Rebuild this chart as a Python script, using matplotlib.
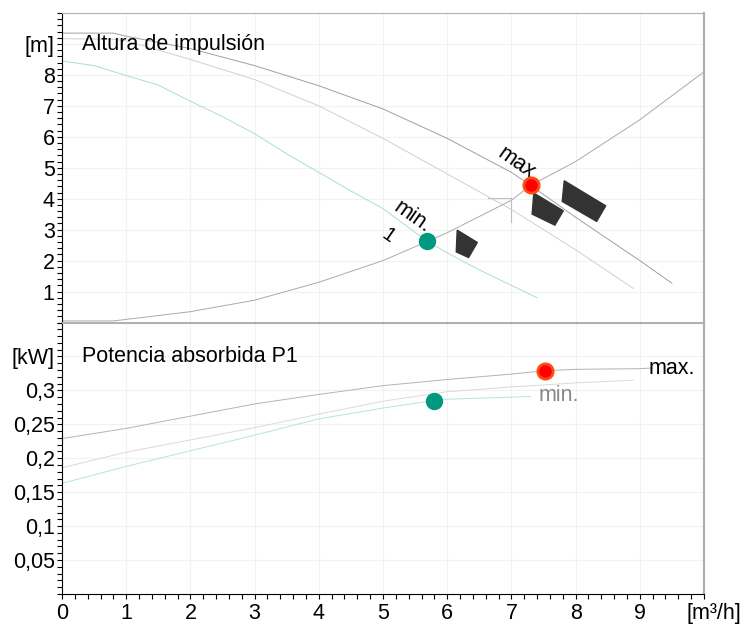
import numpy as np
import matplotlib
matplotlib.use("Agg")
import matplotlib.pyplot as plt
from matplotlib.ticker import MultipleLocator
from matplotlib.patches import Polygon

plt.rcParams['font.family'] = ['Liberation Sans', 'DejaVu Sans']

# --- Altura de impulsion (head) ---
q_max = [0, 0.8, 1, 2, 3, 4, 5, 6, 7, 7.3, 8, 9, 9.5]
h_max = [9.35, 9.35, 9.25, 8.85, 8.3, 7.65, 6.9, 5.95, 4.85, 4.43, 3.4, 2.0, 1.27]
q_mid = [0, 0.8, 1, 2, 3, 4, 5, 6, 7, 8, 8.9]
h_mid = [9.17, 9.15, 9.1, 8.5, 7.85, 7.0, 5.95, 4.8, 3.65, 2.35, 1.1]
q_min = [0, 0.5, 1, 1.5, 2, 2.5, 3, 3.5, 4, 4.5, 5, 5.69, 6, 6.5, 7, 7.4]
h_min = [8.45, 8.3, 7.98, 7.67, 7.15, 6.65, 6.1, 5.45, 4.85, 4.25, 3.68, 2.62, 2.25, 1.7, 1.2, 0.8]
q_sys = [0, 0.8, 1, 2, 3, 4, 5, 5.69, 6, 7, 7.3, 8, 9, 10]
h_sys = [0.05, 0.05, 0.1, 0.35, 0.72, 1.3, 2.0, 2.62, 2.9, 3.95, 4.43, 5.2, 6.55, 8.1]
op_min_h = (5.69, 2.62)
op_max_h = (7.3, 4.43)

# --- Potencia absorbida P1 ---
qp_max = [0, 1, 2, 3, 4, 5, 6, 7, 7.53, 8, 9, 9.2]
p_max = [0.229, 0.244, 0.262, 0.28, 0.294, 0.307, 0.316, 0.324, 0.329, 0.331, 0.332, 0.333]
qp_mid = [0, 1, 2, 3, 4, 5, 6, 7, 8, 8.9]
p_mid = [0.186, 0.209, 0.227, 0.245, 0.265, 0.284, 0.298, 0.305, 0.311, 0.315]
qp_min = [0, 1, 2, 3, 4, 5, 5.79, 6, 7, 7.3]
p_min = [0.163, 0.188, 0.211, 0.234, 0.258, 0.274, 0.285, 0.287, 0.29, 0.291]
op_min_p = (5.79, 0.285)
op_max_p = (7.53, 0.329)

# dark marker shapes in the head panel
shape1 = [(6.156, 2.984), (6.469, 2.586), (6.333, 2.100), (6.141, 2.282)]
shape2 = [(7.349, 4.181), (7.808, 3.608), (7.677, 3.146), (7.323, 3.502)]
shape3 = [(7.823, 4.579), (8.469, 3.770), (8.328, 3.265), (7.792, 3.913)]

x_labels = ['0', '1', '2', '3', '4', '5', '6', '7', '8', '9', '']
h_labels = ['1', '2', '3', '4', '5', '6', '7', '8', '[m]']
p_labels = ['0,05', '0,1', '0,15', '0,2', '0,25', '0,3', '[kW]']

fig = plt.figure(figsize=(7.47, 6.26), dpi=100)
W, H = 747, 626
left, right = 62 / W, 704 / W
ax1 = fig.add_axes([left, 1 - 322.5 / H, right - left, (322.5 - 13) / H])
ax2 = fig.add_axes([left, 1 - 594 / H, right - left, (594 - 322.5) / H])

green = '#00997f'
red = '#ff0000'
fs = 15.5

for ax in (ax1, ax2):
    ax.set_xlim(0, 10)
    ax.grid(True, color='#f2f2f2', linewidth=0.8)
    ax.set_axisbelow(True)
    ax.spines['left'].set_color('black')
    ax.spines['top'].set_color('#b0b0b0')
    ax.spines['right'].set_color('#b0b0b0')
    ax.spines['right'].set_linewidth(1.6)
    ax.xaxis.set_major_locator(MultipleLocator(1))
    ax.xaxis.set_minor_locator(MultipleLocator(0.2))
    ax.tick_params(axis='y', which='both', direction='out', length=3.8, width=0.8,
                   labelsize=fs, pad=1.5)
    ax.tick_params(axis='x', which='both', direction='out', length=3.8, width=0.8,
                   labelsize=fs, pad=2.5)

# head panel
ax1.set_ylim(0, 10)
ax1.plot(q_max, h_max, color='#a0a0a0', lw=0.7)
ax1.plot(q_mid, h_mid, color='#d0d0d0', lw=0.7)
ax1.plot(q_min, h_min, color='#a8dfd4', lw=0.7)
ax1.plot(q_sys, h_sys, color='#aaaaaa', lw=0.7)
ax1.plot([6.64, 6.99], [4.01, 4.01], color='#c0c0c0', lw=0.8)
ax1.plot([6.99, 6.99], [4.01, 3.25], color='#c0c0c0', lw=0.8)
for s in (shape1, shape2, shape3):
    ax1.add_patch(Polygon(s, closed=True, color='#333333', zorder=4))
ax1.plot(*op_min_h, 'o', ms=11.5, color=green, zorder=5)
ax1.plot(*op_max_h, 'o', ms=11, color=red, mec='#ff4a10', mew=2, zorder=5)
ax1.text(7.08, 5.15, 'max', fontsize=fs, rotation=-35, ha='center', va='center')
ax1.text(5.45, 3.4, 'min.', fontsize=fs, rotation=-35, ha='center', va='center')
ax1.text(5.08, 2.8, '1', fontsize=fs - 1, rotation=-35, ha='center', va='center')
ax1.text(0.31, 8.97, 'Altura de impulsión', fontsize=fs, ha='left', va='center')
ax1.set_yticks(range(1, 10))
ax1.set_yticklabels(h_labels)
ax1.yaxis.set_minor_locator(MultipleLocator(0.2))
ax1.tick_params(axis='x', which='both', bottom=False, labelbottom=False)
ax1.spines['bottom'].set_color('#b0b0b0')
ax1.spines['bottom'].set_linewidth(1.4)

# power panel
ax2.set_ylim(0, 0.4)
ax2.plot(qp_max, p_max, color='#b4b4b4', lw=0.7)
ax2.plot(qp_mid, p_mid, color='#dadada', lw=0.7)
ax2.plot(qp_min, p_min, color='#b2e6dc', lw=0.7)
ax2.plot(*op_min_p, 'o', ms=11.5, color=green, zorder=5)
ax2.plot(*op_max_p, 'o', ms=11, color=red, mec='#ff4a10', mew=2, zorder=5)
ax2.text(9.13, 0.332, 'max.', fontsize=fs, ha='left', va='center')
ax2.text(7.42, 0.292, 'min.', fontsize=fs, color='#888888', ha='left', va='center')
ax2.text(0.31, 0.35, 'Potencia absorbida P1', fontsize=fs, ha='left', va='center')
ax2.set_yticks([0.05, 0.1, 0.15, 0.2, 0.25, 0.3, 0.35])
ax2.set_yticklabels(p_labels)
ax2.yaxis.set_minor_locator(MultipleLocator(0.01))
ax2.spines['top'].set_color('#b0b0b0')
ax2.spines['bottom'].set_color('black')
ax2.set_xticks(range(0, 11))
ax2.set_xticklabels(x_labels)
ax2.text(10.15, -0.0135, '[m³/h]', fontsize=fs, ha='center', va='top', clip_on=False)

fig.savefig('out.png', dpi=100)
